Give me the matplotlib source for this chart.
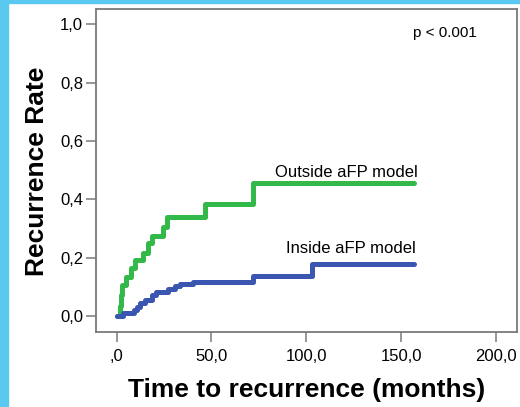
import matplotlib.pyplot as plt
from matplotlib.patches import Rectangle

plt.rcParams['font.family'] = ['Liberation Sans', 'DejaVu Sans']

# cumulative recurrence (1 - KM), step times in months
outside_t = [0, 1.8, 2.1, 2.6, 4.9, 7.4, 9.7, 14.0, 16.7, 18.4, 24.6, 26.7, 46.6, 72.0, 157.0]
outside_y = [0, 0.036, 0.071, 0.107, 0.136, 0.164, 0.193, 0.218, 0.250, 0.275, 0.307, 0.341, 0.385, 0.456, 0.456]

inside_t = [0, 3.5, 9.0, 10.5, 12.5, 15.0, 18.5, 21.0, 27.0, 31.0, 33.5, 40.0, 72.0, 103.0, 157.0]
inside_y = [0, 0.010, 0.020, 0.033, 0.045, 0.057, 0.072, 0.083, 0.092, 0.103, 0.110, 0.117, 0.138, 0.179, 0.179]

xticks = [0, 50, 100, 150, 200]
xtick_labels = [',0', '50,0', '100,0', '150,0', '200,0']
yticks = [0, 0.2, 0.4, 0.6, 0.8, 1.0]
ytick_labels = ['0,0', '0,2', '0,4', '0,6', '0,8', '1,0']

green = '#33b84a'
blue = '#3a56b0'
frame = '#7a7a7a'

fig = plt.figure(figsize=(5.2, 4.07), dpi=100)
ax = fig.add_axes([96 / 520, 1 - 332 / 407, 421 / 520, 323 / 407])

ax.step(outside_t, outside_y, where='post', color=green, lw=3.6, solid_capstyle='round')
ax.step(inside_t, inside_y, where='post', color=blue, lw=3.6, solid_capstyle='round')

ax.text(158.8, 0.477, 'Outside aFP model', ha='right', va='baseline', fontsize=12)
ax.text(157.9, 0.216, 'Inside aFP model', ha='right', va='baseline', fontsize=12)
ax.text(190.2, 0.957, 'p < 0.001', ha='right', va='baseline', fontsize=11)

ax.set_xlim(-10.9, 211.1)
ax.set_ylim(-0.054, 1.052)
ax.set_xticks(xticks)
ax.set_xticklabels(xtick_labels)
ax.set_yticks(yticks)
ax.set_yticklabels(ytick_labels)
ax.tick_params(direction='out', length=7.2, width=1.1, color=frame, labelsize=12)
ax.tick_params(axis='x', pad=5)
ax.tick_params(axis='y', pad=2)
for s in ax.spines.values():
    s.set_color(frame)
    s.set_linewidth(1.3)

fig.text(36.7 / 520, 1 - 171 / 407, 'Recurrence Rate', rotation=90, ha='center', va='center',
         fontsize=19, fontweight='bold')
fig.text(306.5 / 520, 1 - 390 / 407, 'Time to recurrence (months)', ha='center', va='center',
         fontsize=19, fontweight='bold')

# light blue page border
fig.patches.append(Rectangle((0, 0), 8 / 520, 1, transform=fig.transFigure,
                             color='#5bc8f0', zorder=0))
fig.patches.append(Rectangle((0, 1 - 3 / 407), 1, 3 / 407, transform=fig.transFigure,
                             color='#5bc8f0', zorder=0))

fig.savefig('out.png', dpi=100)
